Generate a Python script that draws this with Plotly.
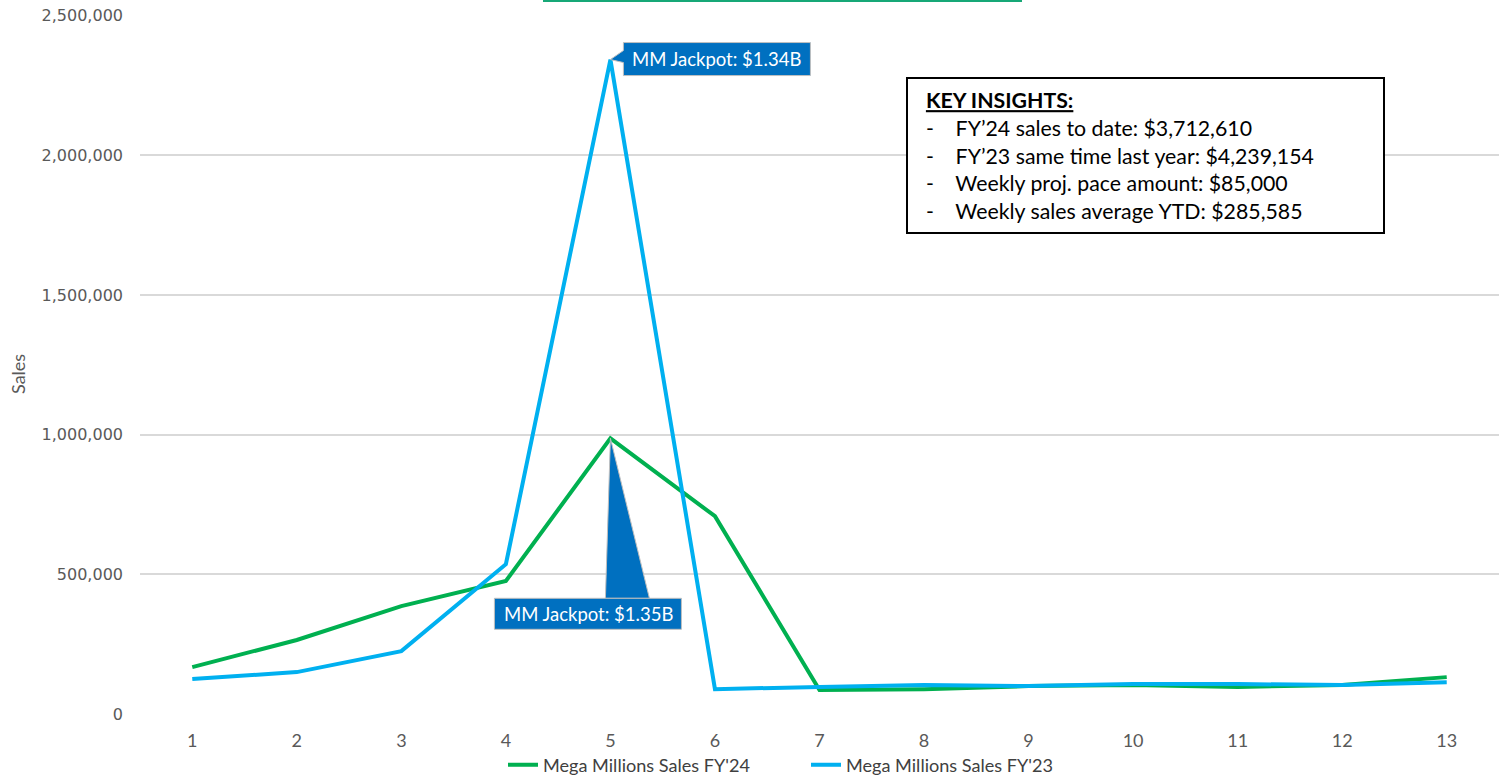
import plotly.graph_objects as go

weeks = list(range(1, 14))
fy24 = [168000, 265000, 386000, 476000, 987000, 708000, 86000, 89000, 100000, 104000, 97000, 104000, 132000]
fy23 = [125000, 150000, 225000, 536000, 2343000, 89000, 97000, 104000, 100000, 107000, 107000, 104000, 114000]
y_ticks = [0, 500000, 1000000, 1500000, 2000000, 2500000]
y_tick_text = ["0", "500,000", "1,000,000", "1,500,000", "2,000,000", "2,500,000"]
series_names = ["Mega Millions Sales FY'24", "Mega Millions Sales FY'23"]
y_title = "Sales"
insights_title = "KEY INSIGHTS:"
insights = [
    "FY’24 sales to date: $3,712,610",
    "FY’23 same time last year: $4,239,154",
    "Weekly proj. pace amount: $85,000",
    "Weekly sales average YTD: $285,585",
]
callout_23 = "MM Jackpot: $1.34B"
callout_24 = "MM Jackpot: $1.35B"

GREEN = "#00B050"
BLUE = "#00B0F0"
CALLOUT = "#0070C0"
FONT = "Lato"

L, R, T, B = 140, 3, 15, 61
PW = 1502 - L - R
PH = 775 - T - B

fig = go.Figure()
fig.add_trace(go.Scatter(x=weeks, y=fy24, mode="lines", name=series_names[0],
                         line=dict(color=GREEN, width=4)))
fig.add_trace(go.Scatter(x=weeks, y=fy23, mode="lines", name=series_names[1],
                         line=dict(color=BLUE, width=4)))

peak_i = 4
# upper callout (FY'23 peak): box + small tail, anchored at the data point in pixel units
fig.add_shape(type="path", xref="x", yref="y", xsizemode="pixel", ysizemode="pixel",
              xanchor=weeks[peak_i], yanchor=fy23[peak_i],
              path="M 0,0 L 13,9 L 13,17 L 200,17 L 200,-16 L 13,-16 L 13,-3 Z",
              fillcolor=CALLOUT, line=dict(color="#BFBFBF", width=1), layer="above")
fig.add_annotation(x=weeks[peak_i], y=fy23[peak_i], xref="x", yref="y",
                   text=callout_23, showarrow=False, xanchor="left", yanchor="middle",
                   xshift=20, yshift=1, font=dict(family=FONT, size=18.5, color="white"))

# lower callout (FY'24 peak): wedge down to a box
fig.add_shape(type="path", xref="x", yref="y", xsizemode="pixel", ysizemode="pixel",
              xanchor=weeks[peak_i], yanchor=fy24[peak_i],
              path="M 0,0 L -5,-160 L 39,-160 Z",
              fillcolor=CALLOUT, line=dict(color="#BFBFBF", width=1), layer="above")
fig.add_shape(type="path", xref="x", yref="y", xsizemode="pixel", ysizemode="pixel",
              xanchor=weeks[peak_i], yanchor=fy24[peak_i],
              path="M -116,-160 L 71,-160 L 71,-191 L -116,-191 Z",
              fillcolor=CALLOUT, line=dict(color="#BFBFBF", width=1), layer="above")
fig.add_annotation(x=weeks[peak_i], y=fy24[peak_i], xref="x", yref="y",
                   text=callout_24, showarrow=False, xanchor="center", yanchor="middle",
                   xshift=-22, yshift=-176, font=dict(family=FONT, size=18.5, color="white"))

# key insights box
sp = "\u00a0"
lead = sp * 2
lines = [f"{lead}<b><u>{insights_title}</u></b>"] + [f"{lead}-{sp*4}{t}" for t in insights]
fig.add_annotation(xref="paper", yref="paper", x=(906 - L) / PW, y=1 + (T - 77) / PH,
                   xanchor="left", yanchor="top", align="left", showarrow=False,
                   text="<br>".join(lines), width=461, height=139,
                   bordercolor="black", borderwidth=2, borderpad=7, bgcolor="white",
                   font=dict(family=FONT, size=21.3, color="black"))

# y-axis title
fig.add_annotation(xref="paper", yref="paper", x=(18 - L) / PW, y=1 - (374 - T) / PH,
                   xanchor="center", yanchor="middle", showarrow=False, textangle=-90,
                   text=y_title, font=dict(family=FONT, size=18, color="#595959"))

# thin green line at top of the image
fig.add_shape(type="line", xref="paper", yref="paper",
              x0=(543 - L) / PW, x1=(1022 - L) / PW,
              y0=1 + (T - 1) / PH, y1=1 + (T - 1) / PH,
              line=dict(color="#17A877", width=2))

fig.update_layout(
    width=1502, height=775,
    margin=dict(l=L, r=R, t=T, b=B, autoexpand=False),
    plot_bgcolor="white", paper_bgcolor="white",
    font=dict(family=FONT, color="#595959", size=16),
    showlegend=True,
    legend=dict(orientation="h", x=(503 - L) / PW, xanchor="left", y=-(765 - (775 - B)) / PH,
                yanchor="middle", font=dict(size=18.1, color="#404040"),
                entrywidth=258, entrywidthmode="pixels", tracegroupgap=0),
    xaxis=dict(range=[0.5, 13.5], tickmode="array", tickvals=weeks,
               ticktext=[str(w) for w in weeks], showgrid=False, zeroline=False,
               showline=False, ticks="", automargin=False, ticklabelstandoff=14,
               tickfont=dict(size=18, color="#595959")),
    yaxis=dict(range=[0, 2502500], tickvals=y_ticks, ticktext=y_tick_text,
               showgrid=True, gridcolor="#D9D9D9", gridwidth=1.5, zeroline=False,
               ticks="", ticklen=0, automargin=False, ticklabelstandoff=16,
               tickfont=dict(family="DejaVu Sans", size=16, color="#595959")),
)

fig.write_html("out.html", config={"displayModeBar": False},
               post_script="document.body.style.margin='0';document.body.style.padding='0';")
